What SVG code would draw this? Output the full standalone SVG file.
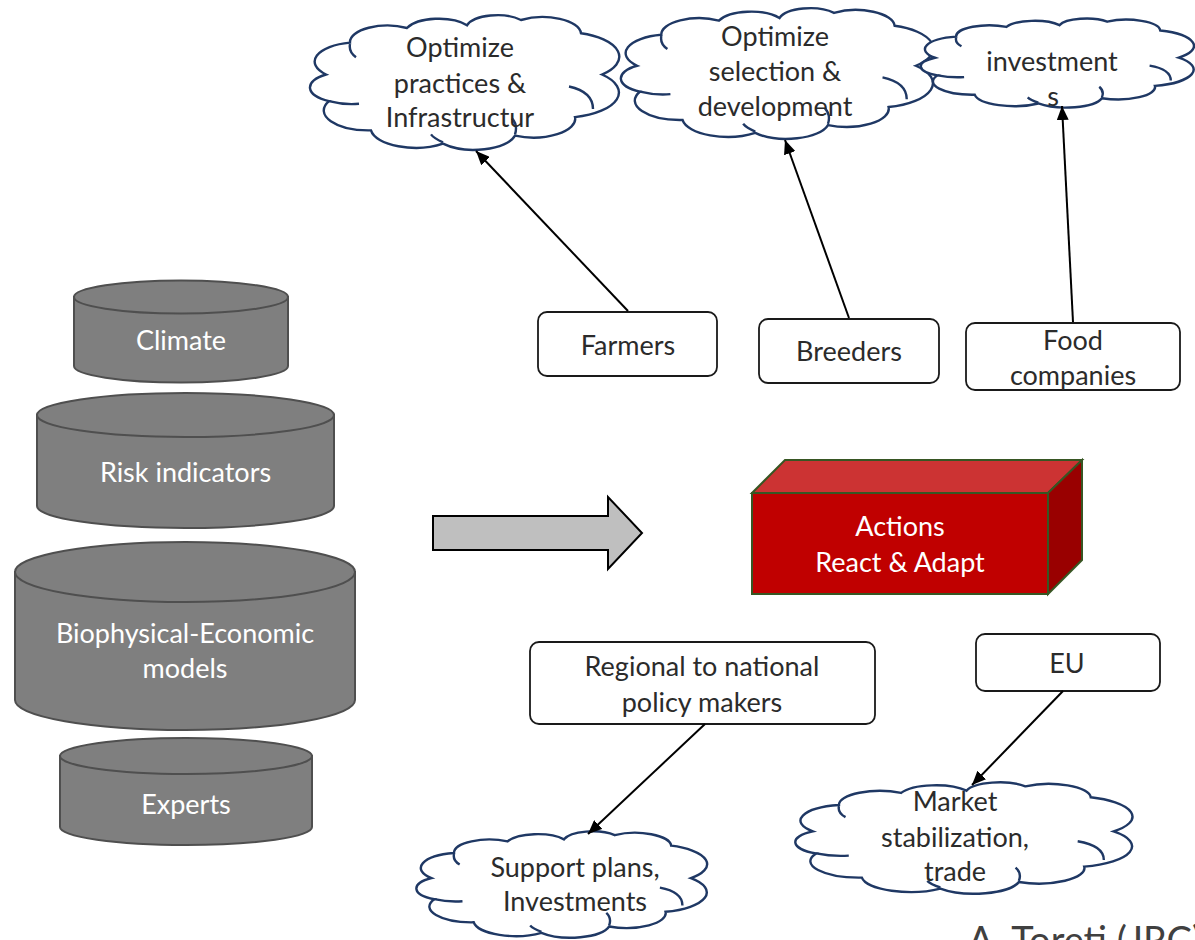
<svg xmlns="http://www.w3.org/2000/svg" width="1195" height="940" viewBox="0 0 1195 940">
  <defs>
    <style>
      .txt { font-family: Lato, "Open Sans", "Liberation Sans", sans-serif; font-size: 27px; text-anchor: middle; }
      .dark { fill: #2b2b2b; }
      .light { fill: #ffffff; }
      .cyl { fill: #7f7f7f; stroke: #4f4f4f; stroke-width: 2; }
      .box { fill: #ffffff; stroke: #1a1a1a; stroke-width: 1.8; }
      .cloud { fill: #ffffff; stroke: #1f3864; stroke-width: 2.4; vector-effect: non-scaling-stroke; }
      .crease { fill: none; stroke: #1f3864; stroke-width: 2.4; vector-effect: non-scaling-stroke; }
      .link { stroke: #000000; stroke-width: 2; fill: none; marker-end: url(#head); }
    </style>
    <marker id="head" markerUnits="userSpaceOnUse" markerWidth="14" markerHeight="12" refX="14" refY="6" orient="auto">
      <path d="M0,0 L14,6 L0,12 Z" fill="#000000"/>
    </marker>
    <!-- cloud outline and inner creases, drawn in a 100x100 box -->
    <path id="cloudShape" class="cloud" d="M3,44 A14.5,14.5 0 0 1 11,20 A12.5,12.5 0 0 1 30,9 A11.5,11.5 0 0 1 50,7 A10.5,10.5 0 0 1 68,3 A12.8,12.8 0 0 1 88,13 A18.5,18.5 0 0 1 95,44 A19,19 0 0 1 86,76 A14,14 0 0 1 66,90 A14,14 0 0 1 42,96 A15,15 0 0 1 18,86 A15,15 0 0 1 4,64 A11.5,11.5 0 0 1 3,44 Z"/>
    <path id="cloudCreases" class="crease" d="M4,64 Q9,67 14,66 M11,21 Q10.5,27 13,31 M84,53 Q92,57 92,70 M66,89 Q67,82 65,77 M42,95 Q39,92 38,89"/>
  </defs>

  <!-- data sources (cylinders) -->
  <g id="climate">
    <path class="cyl" d="M74,297 L74,366 A107,16.5 0 0 0 288,366 L288,297 Z"/>
    <ellipse class="cyl" cx="181" cy="297" rx="107" ry="16.5"/>
    <text class="txt light" x="181" y="350">Climate</text>
  </g>
  <g id="risk-indicators">
    <path class="cyl" d="M37,415 L37,506 A148.5,22 0 0 0 334,506 L334,415 Z"/>
    <ellipse class="cyl" cx="185.5" cy="415" rx="148.5" ry="22"/>
    <text class="txt light" x="185.5" y="482">Risk indicators</text>
  </g>
  <g id="models">
    <path class="cyl" d="M15,572 L15,700 A170,30 0 0 0 355,700 L355,572 Z"/>
    <ellipse class="cyl" cx="185" cy="572" rx="170" ry="30"/>
    <text class="txt light" x="185" y="643">Biophysical-Economic</text>
    <text class="txt light" x="185" y="678">models</text>
  </g>
  <g id="experts">
    <path class="cyl" d="M60,756 L60,827 A126,18 0 0 0 312,827 L312,756 Z"/>
    <ellipse class="cyl" cx="186" cy="756" rx="126" ry="18"/>
    <text class="txt light" x="186" y="814">Experts</text>
  </g>

  <!-- block arrow -->
  <g id="block-arrow">
    <path d="M433,516 L608,516 L608,497 L642,533 L608,569 L608,550 L433,550 Z" fill="#bfbfbf" stroke="#000000" stroke-width="2"/>
  </g>

  <!-- actions box -->
  <g id="actions">
    <path d="M752,493 L785,460 L1082,460 L1048,493 Z" fill="#cc3333" stroke="#375623" stroke-width="2"/>
    <path d="M1048,493 L1082,460 L1082,560 L1048,594 Z" fill="#990000" stroke="#375623" stroke-width="2"/>
    <rect x="752" y="493" width="296" height="101" fill="#c00000" stroke="#375623" stroke-width="2"/>
    <text class="txt light" x="900" y="536">Actions</text>
    <text class="txt light" x="900" y="572">React &amp; Adapt</text>
  </g>

  <!-- actors -->
  <g id="farmers">
    <rect class="box" x="538" y="312" width="179" height="64" rx="9"/>
    <text class="txt dark" x="628" y="355">Farmers</text>
  </g>
  <g id="breeders">
    <rect class="box" x="759" y="319" width="180" height="64" rx="9"/>
    <text class="txt dark" x="849" y="361">Breeders</text>
  </g>
  <g id="food-companies">
    <rect class="box" x="966" y="323" width="214" height="67" rx="9"/>
    <text class="txt dark" x="1073" y="350">Food</text>
    <text class="txt dark" x="1073" y="385">companies</text>
  </g>
  <g id="policy-makers">
    <rect class="box" x="530" y="642" width="345" height="82" rx="9"/>
    <text class="txt dark" x="702" y="676">Regional to national</text>
    <text class="txt dark" x="702" y="712">policy makers</text>
  </g>
  <g id="eu">
    <rect class="box" x="976" y="634" width="184" height="57" rx="9"/>
    <text class="txt dark" x="1067" y="673">EU</text>
  </g>

  <!-- outcome clouds -->
  <g id="cloud-practices">
    <g transform="translate(317,16) scale(3.0,1.33)">
      <use href="#cloudShape"/>
      <use href="#cloudCreases"/>
    </g>
    <text class="txt dark" x="460" y="57">Optimize</text>
    <text class="txt dark" x="460" y="93">practices &amp;</text>
    <text class="txt dark" x="460" y="127">Infrastructur</text>
  </g>
  <g id="cloud-selection">
    <g transform="translate(628,9) scale(3.03,1.29)">
      <use href="#cloudShape"/>
      <use href="#cloudCreases"/>
    </g>
    <text class="txt dark" x="775" y="46">Optimize</text>
    <text class="txt dark" x="775" y="81">selection &amp;</text>
    <text class="txt dark" x="775" y="116">development</text>
  </g>
  <g id="cloud-investments">
    <g transform="translate(927,19) scale(2.65,0.88)">
      <use href="#cloudShape"/>
      <use href="#cloudCreases"/>
    </g>
    <text class="txt dark" x="1052" y="71">investment</text>
    <text class="txt dark" x="1053" y="106">s</text>
  </g>
  <g id="cloud-support">
    <g transform="translate(423,832) scale(2.82,1.05)">
      <use href="#cloudShape"/>
      <use href="#cloudCreases"/>
    </g>
    <text class="txt dark" x="575" y="877">Support plans,</text>
    <text class="txt dark" x="575" y="911">Investments</text>
  </g>
  <g id="cloud-market">
    <g transform="translate(803,783) scale(3.27,1.1)">
      <use href="#cloudShape"/>
      <use href="#cloudCreases"/>
    </g>
    <text class="txt dark" x="955" y="811">Market</text>
    <text class="txt dark" x="955" y="847">stabilization,</text>
    <text class="txt dark" x="955" y="881">trade</text>
  </g>

  <!-- connectors -->
  <g id="connectors">
    <line class="link" x1="628" y1="311" x2="476" y2="151"/>
    <line class="link" x1="849" y1="318" x2="785" y2="140"/>
    <line class="link" x1="1073" y1="322" x2="1062" y2="106"/>
    <line class="link" x1="705" y1="724" x2="588" y2="834"/>
    <line class="link" x1="1063" y1="691" x2="972" y2="785"/>
  </g>

  <!-- credit -->
  <text x="968" y="954" font-family="Lato, 'Open Sans', 'Liberation Sans', sans-serif" font-size="38" fill="#404040">A. Toreti (JRC)</text>
</svg>
